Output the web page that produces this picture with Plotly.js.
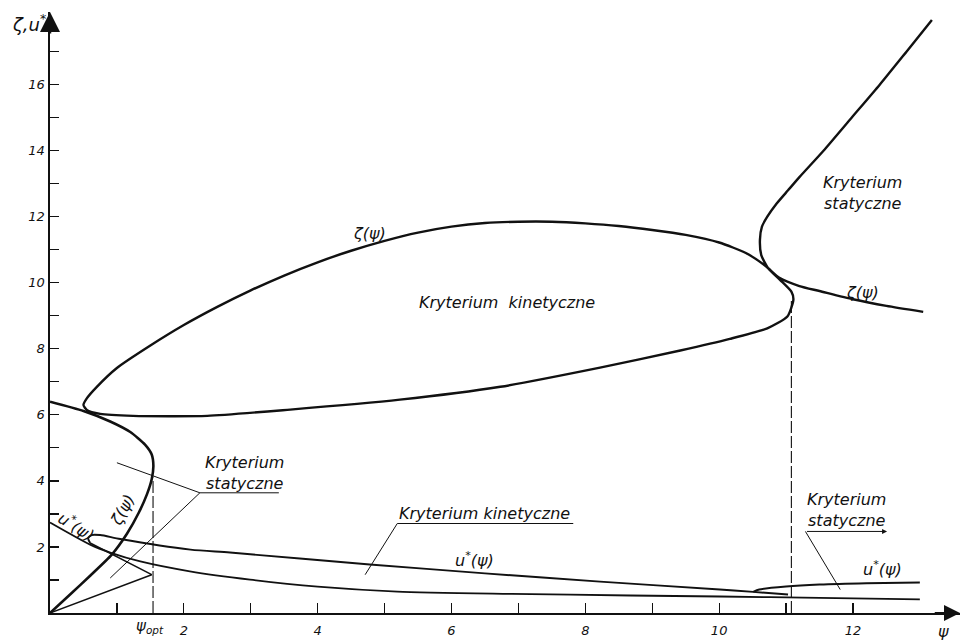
<!DOCTYPE html>
<html><head><meta charset="utf-8">
<script src="https://cdn.plot.ly/plotly-3.0.1.min.js"></script>
<style>html,body{margin:0;padding:0;background:#fff}#chart{width:966px;height:643px}</style>
</head><body><div id="chart"></div>
<script>
// ---- data ----
// zeta(psi), static criterion, left C-shaped branch
const zetaLeftPsi = [0, 0.30, 0.60, 0.92, 1.15, 1.33, 1.45, 1.52, 1.545, 1.52, 1.42, 1.20, 0.90, 0.50, 0];
const zetaLeftVal = [0, 0.56, 1.13, 1.76, 2.40, 3.05, 3.60, 4.05, 4.45, 4.80, 5.10, 5.48, 5.80, 6.12, 6.40];
// zeta(psi), kinetic loop (upper branch from right end, tip, lower branch) continued by the static branch on the right
const zetaLoopPsi = [13.05, 12.5, 12.0, 11.5, 11.2, 10.9, 10.7, 10.4, 10.0, 9.5, 9.0, 8.5, 8.0, 7.5, 7.0, 6.5, 6.0, 5.5, 5.0, 4.5, 4.0, 3.5, 3.0, 2.5, 2.0, 1.5, 1.0, 0.7, 0.55, 0.50, 0.55, 0.75, 1.24, 2.35, 3.59, 5.23, 6.73, 8.22, 9.42, 10.16, 10.72, 11.02, 11.11, 11.08, 10.91, 10.73, 10.63, 10.61, 10.64, 10.72, 10.86, 11.03, 11.20, 11.56, 11.98, 12.40, 12.80, 13.18];
const zetaLoopVal = [9.12, 9.30, 9.50, 9.75, 9.90, 10.15, 10.50, 10.90, 11.22, 11.45, 11.60, 11.72, 11.80, 11.85, 11.85, 11.81, 11.70, 11.52, 11.27, 10.97, 10.62, 10.22, 9.77, 9.27, 8.72, 8.10, 7.42, 6.85, 6.50, 6.30, 6.15, 6.03, 5.97, 5.97, 6.16, 6.46, 6.85, 7.43, 7.95, 8.30, 8.62, 8.98, 9.49, 9.73, 10.09, 10.45, 10.84, 11.30, 11.70, 12.00, 12.40, 12.80, 13.20, 14.00, 15.00, 16.00, 17.00, 17.96];
// u*(psi), lower long curve
const uLowPsi = [0, 0.60, 0.90, 1.35, 2.09, 2.99, 4.0, 5.19, 6.9, 8.67, 10.01, 11.5, 13.0];
const uLowVal = [2.74, 2.07, 1.83, 1.56, 1.26, 1.01, 0.80, 0.65, 0.58, 0.53, 0.50, 0.46, 0.41];
// u*(psi), static triangle from origin
const uTriPsi = [0, 1.52, 0.60];
const uTriVal = [0, 1.16, 2.12];
// u*(psi), kinetic upper curve (from the hook)
const uKinPsi = [0.60, 0.57, 0.62, 0.75, 1.05, 2.10, 2.69, 4.78, 6.5, 8.22, 10.01, 10.51, 11.03];
const uKinVal = [2.12, 2.26, 2.36, 2.36, 2.24, 1.92, 1.83, 1.47, 1.20, 0.95, 0.71, 0.64, 0.56];
// u*(psi), static branch on the right
const uStatPsi = [10.51, 10.60, 11.0, 11.5, 12.2, 13.0];
const uStatVal = [0.64, 0.71, 0.80, 0.86, 0.90, 0.92];
// psi_opt and right limit
const psiOpt = 1.54, psiOptTop = 4.10;
const psiLim = 11.08, psiLimTop = 9.45;
const xTickVals = [1,2,3,4,5,6,7,8,9,10,11,12];
const xTickText = ['','2','','4','','6','','8','','10','','12'];
const yTickVals = [1,2,3,4,5,6,7,8,9,10,11,12,13,14,15,16,17];
const yTickText = ['','2','','4','','6','','8','','10','','12','','14','','16',''];

const FONT = 'DejaVu Sans, Liberation Sans, sans-serif';
const ink = '#111';

function line(x, y, w, opts) {
  return Object.assign({type:'scatter', mode:'lines', x:x, y:y, hoverinfo:'skip', showlegend:false,
    line:Object.assign({color:ink, width:w}, (opts||{}))});
}

const traces = [
  line(zetaLeftPsi, zetaLeftVal, 2.6, {shape:'spline', smoothing:0.6}),
  line(zetaLoopPsi, zetaLoopVal, 2.4, {shape:'spline', smoothing:0.6}),
  line(uLowPsi, uLowVal, 1.8, {shape:'spline', smoothing:0.7}),
  line(uTriPsi, uTriVal, 1.5),
  line(uKinPsi, uKinVal, 1.9, {shape:'spline', smoothing:0.7}),
  line(uStatPsi, uStatVal, 2.0, {shape:'spline', smoothing:0.7}),
  line([psiOpt, psiOpt], [0, psiOptTop], 1.1, {dash:'12px,3px'}),
  line([psiLim, psiLim], [0, psiLimTop], 1.1, {dash:'12px,3px'}),
  // leader lines
  line([1.0, 2.24, 0.9], [4.55, 3.64, 1.06], 1),
  line([2.24, 3.42], [3.64, 3.64], 1),
  line([4.71, 5.19, 7.82], [1.16, 2.71, 2.71], 1),
  line([11.81, 11.29], [0.71, 2.47], 1)
];

function txt(x, y, text, opts) {
  return Object.assign({x:x, y:y, xref:'x', yref:'y', text:text, showarrow:false,
    font:{family:FONT, size:16, color:ink, style:'italic'}}, opts||{});
}

const annotations = [
  txt(6.83, 9.39, 'Kryterium  kinetyczne'),
  txt(4.78, 11.5, 'ζ(ψ)'),
  txt(12.14, 12.72, 'Kryterium<br>statyczne'),
  txt(12.14, 9.70, 'ζ(ψ)'),
  txt(2.90, 4.24, 'Kryterium<br>statyczne'),
  txt(6.49, 3.02, 'Kryterium kinetyczne'),
  txt(6.35, 1.62, 'u<sup>*</sup>(ψ)'),
  txt(11.90, 3.12, 'Kryterium<br>statyczne'),
  txt(12.44, 1.35, 'u<sup>*</sup>(ψ)'),
  txt(0.40, 2.62, 'u<sup>*</sup>(ψ)', {textangle:32}),
  txt(1.09, 3.13, 'ζ(ψ)', {textangle:-62}),
  // axis names
  {xref:'paper', yref:'paper', x:0.982, y:-0.031, text:'ψ', showarrow:false, xanchor:'center', yanchor:'middle',
   font:{family:FONT, size:16, color:ink, style:'italic'}},
  {xref:'x', yref:'paper', x:psiOpt - 0.05, y:-0.003, text:'ψ<sub>opt</sub>', showarrow:false, xanchor:'center', yanchor:'top',
   font:{family:FONT, size:15, color:ink, style:'italic'}},
  {xref:'paper', yref:'paper', x:-0.023, y:1.005, text:'ζ,u<sup>*</sup>', showarrow:false, xanchor:'center', yanchor:'top',
   font:{family:FONT, size:18, color:ink, style:'italic'}},
  // axis arrows
  {xref:'x', yref:'y', x:13.6, y:0, axref:'x', ayref:'y', ax:13.2, ay:0, showarrow:true, arrowhead:2, arrowsize:1.6, arrowwidth:2, arrowcolor:ink, text:''},
  {xref:'x', yref:'y', x:0, y:18.2, axref:'x', ayref:'y', ax:0, ay:17.5, showarrow:true, arrowhead:2, arrowsize:1.6, arrowwidth:2.5, arrowcolor:ink, text:''},
  // arrow on right leader underline
  {xref:'x', yref:'y', x:12.51, y:2.47, axref:'x', ayref:'y', ax:11.29, ay:2.47, showarrow:true, arrowhead:2, arrowsize:1, arrowwidth:1, arrowcolor:ink, text:''}
];

const layout = {
  width:966, height:643,
  margin:{l:50, r:6, t:12, b:30},
  paper_bgcolor:'#fff', plot_bgcolor:'#fff',
  showlegend:false,
  xaxis:{range:[0,13.6], showgrid:false, zeroline:false, showline:true, linewidth:2, linecolor:ink,
    tickmode:'array', tickvals:xTickVals, ticktext:xTickText, ticks:'inside', ticklen:10, tickwidth:1.2, tickcolor:ink,
    ticklabelstandoff:4,
    tickfont:{family:FONT, size:13, color:ink, style:'italic'}, automargin:false, fixedrange:true},
  yaxis:{range:[0,18.2], showgrid:false, zeroline:false, showline:true, linewidth:2.5, linecolor:ink,
    tickmode:'array', tickvals:yTickVals, ticktext:yTickText, ticks:'inside', ticklen:9, tickwidth:1.2, tickcolor:ink,
    tickfont:{family:FONT, size:13, color:ink, style:'italic'}, automargin:false, fixedrange:true},
  annotations:annotations
};

Plotly.newPlot('chart', traces, layout, {staticPlot:true, displayModeBar:false});
</script>
</body></html>
